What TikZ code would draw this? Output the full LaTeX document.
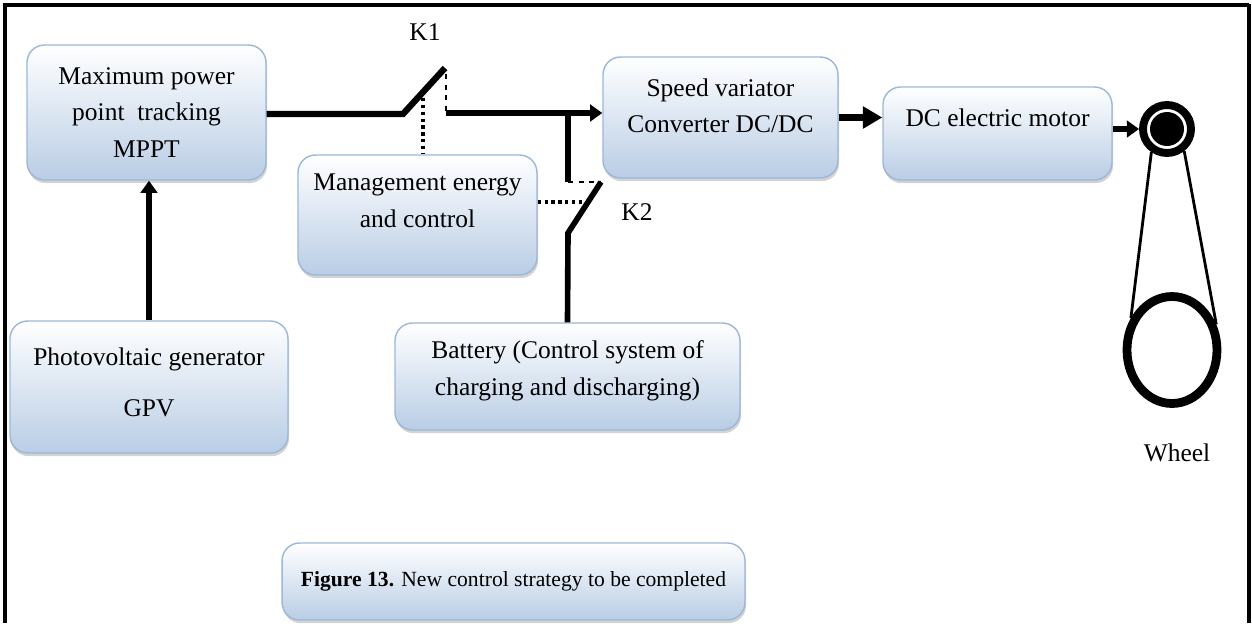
\documentclass[tikz,border=0pt]{standalone}
\usepackage{fontspec}
\setmainfont{Liberation Serif}
\usetikzlibrary{arrows.meta,shapes.geometric,shadows}
\definecolor{boxline}{RGB}{155,183,217}
\definecolor{boxfill}{RGB}{185,205,229}
\begin{document}
\begin{tikzpicture}[x=0.02cm, y=-0.02cm, >={Triangle[length=7pt,width=9.5pt]}, font=\fontsize{14.5}{21}\selectfont,
	block/.style={rectangle, rounded corners=0.35cm, draw=boxline, line width=0.8pt, top color=white, bottom color=boxfill,
		drop shadow={shadow xshift=0.6pt, shadow yshift=-1.8pt, opacity=0.35}, align=center},
	power/.style={line width=3.2pt},
	cut/.style={dashed, line width=0.9pt},
	ctrl/.style={dotted, line width=1.9pt}]
	\useasboundingbox (0,0) rectangle (1252,623);
	\draw[line width=2.3pt] (5,623) -- (5,5) -- (1249,5);
	\draw[line width=1.8pt] (1249,4) -- (1249,623);
	\node[block, minimum width=4.78cm, minimum height=2.7cm] (mppt) at (146.5,112.5) {Maximum power\\point~ tracking\\MPPT};
	\node[block, minimum width=5.56cm, minimum height=2.64cm, text depth=5pt] (pv) at (149,387) {Photovoltaic generator\\[8pt]GPV};
	\node[block, minimum width=4.78cm, minimum height=2.4cm, text depth=16pt] (mgmt) at (417.5,215) {Management energy\\and control};
	\node[block, minimum width=4.7cm, minimum height=2.42cm, text depth=13.5pt] (speed) at (720.5,117.5) {Speed variator\\Converter DC/DC};
	\node[block, minimum width=4.58cm, minimum height=1.86cm, text depth=17.5pt] (motor) at (997.5,133.5) {DC electric motor};
	\node[block, minimum width=6.9cm, minimum height=2.14cm, text depth=10pt] (bat) at (567.5,376.5) {Battery (Control system of\\charging and discharging)};
	\node[block, minimum width=9.26cm, minimum height=1.54cm, font=\fontsize{12.3}{15}\selectfont] (caption) at (513.5,581.5) {\textbf{Figure 13.} New control strategy to be completed};
	\node[ellipse, draw, line width=5pt, minimum width=1.8cm, minimum height=2.14cm] (wheel) at (1172,350) {};
	\node[circle, draw, line width=4.5pt, fill=white, minimum size=0.96cm] (pulley) at (1167,129) {};
	\fill (pulley) circle (0.34cm);
	\node (k1) at (425,32) {K1};
	\node (k2) at (637,212) {K2};
	\node (wheeltext) at (1177,453) {Wheel};
	\path
	(403,114) coordinate (k1a)
	(445,68) coordinate (k1b)
	(446,74) coordinate (k1t)
	(446,113) coordinate (k1c)
	(423,98) coordinate (k1d)
	(568,113) coordinate (j)
	(568,182) coordinate (k2a)
	(601,182) coordinate (k2b)
	(568,233) coordinate (k2c)
	(583,202) coordinate (k2d)
	;
	\draw[power, line width=3.6pt] (mppt.east |- k1a) -- (k1a) -- (k1b);
	\draw[cut] (k1t) -- (k1c);
	\draw[power,->] (k1c) -- (speed.west |- k1c);
	\draw[power] (j) -- (k2a);
	\draw[cut] (k2a) -- (k2b);
	\draw[power] (k2b) -- (k2c) -- (bat.north);
	\draw[ctrl] (k1d) -- (k1d |- mgmt.north);
	\draw[ctrl] (mgmt.east |- k2d) -- (k2d);
	\draw[power,->] (pv.north) -- (pv.north |- mppt.south);
	\draw[line width=4.4pt, -{Triangle[length=11pt,width=12pt]}] (speed.east) -- (speed.east -| motor.west);
	\draw[power,->] (motor.east |- pulley) -- (pulley);
	\draw[line width=1.6pt] (pulley.-124) -- (wheel.142) (pulley.-52) -- (wheel.30);
\end{tikzpicture}
\end{document}
